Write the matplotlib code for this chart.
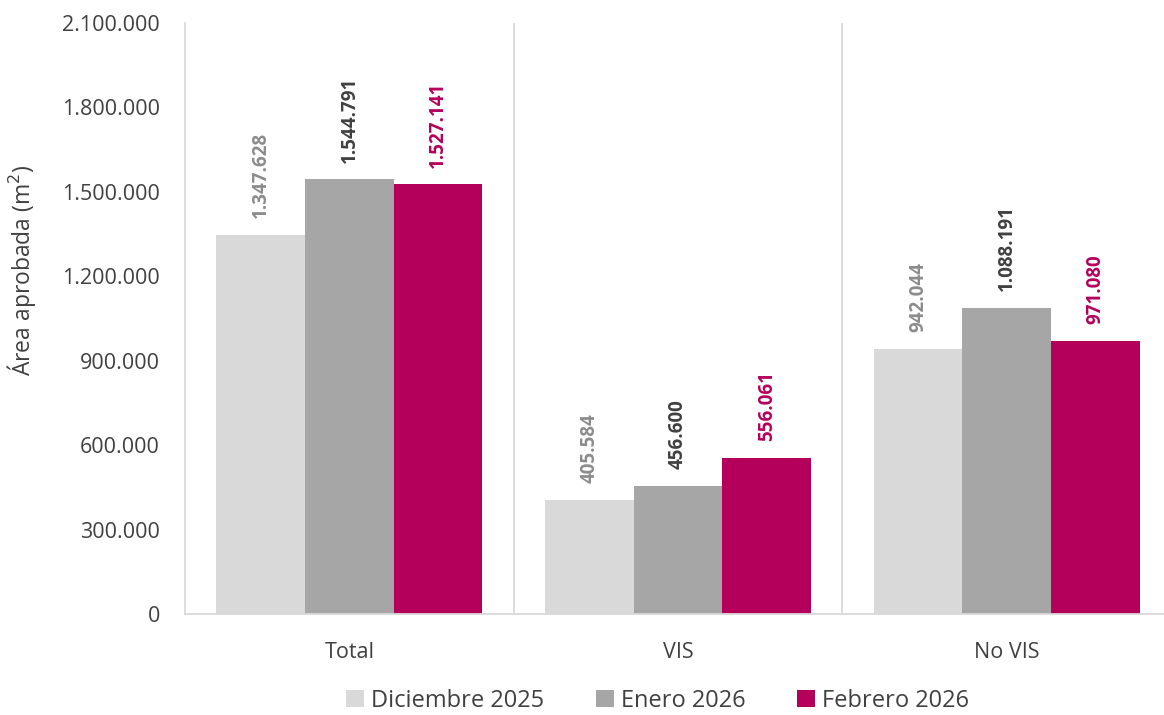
import matplotlib
matplotlib.use('Agg')
import matplotlib.pyplot as plt
import numpy as np
from matplotlib.ticker import FuncFormatter

categorias = ['Total', 'VIS', 'No VIS']
series = ['Diciembre 2025', 'Enero 2026', 'Febrero 2026']
dic_2025 = [1347628, 405584, 942044]
ene_2026 = [1544791, 456600, 1088191]
feb_2026 = [1527141, 556061, 971080]

colores = ['#d9d9d9', '#a6a6a6', '#b5005b']
colores_txt = ['#8c8c8c', '#404040', '#b5005b']
pesos_txt = ['bold', 'bold', 'bold']

plt.rcParams['font.family'] = ['Open Sans', 'DejaVu Sans']

fig = plt.figure(figsize=(11.64, 7.15), dpi=100)
ax = fig.add_axes([0.159, 0.141, 0.847, 0.827])

x = np.arange(len(categorias))
width = 0.27
valores = [dic_2025, ene_2026, feb_2026]
for i, (vals, nombre) in enumerate(zip(valores, series)):
    pos = x + (i - 1) * width
    ax.bar(pos, vals, width, color=colores[i], label=nombre, zorder=2)
    for xp, v in zip(pos, vals):
        ax.annotate(f'{v:,}'.replace(',', '.'), (xp, v), xytext=(0, 12),
                    textcoords='offset points', rotation=90, ha='center',
                    va='bottom', fontsize=13.5, color=colores_txt[i],
                    fontweight=pesos_txt[i])

# separadores verticales entre categorias
for b in [0.5, 1.5, 2.5]:
    ax.axvline(b, color='#d9d9d9', lw=1.3, zorder=1)

ax.set_xlim(-0.5, 2.5)
ax.set_ylim(0, 2100000)
ax.set_yticks(np.arange(0, 2100001, 300000))
ax.yaxis.set_major_formatter(FuncFormatter(lambda v, p: f'{int(v):,}'.replace(',', '.')))
ax.set_xticks(x)
ax.set_xticklabels(categorias)
ax.tick_params(axis='both', length=0, labelsize=15.5, colors='#404040')
ax.tick_params(axis='y', pad=18)
ax.tick_params(axis='x', pad=20)

for s in ['top', 'right']:
    ax.spines[s].set_visible(False)
for s in ['left', 'bottom']:
    ax.spines[s].set_color('#d9d9d9')
    ax.spines[s].set_linewidth(1.3)

ax.set_ylabel('Área aprobada (m$^2$)', fontsize=16.5, color='#404040')
ax.yaxis.set_label_coords(-0.149, 0.582)

fig.legend(loc='lower center', ncol=3, frameon=False, fontsize=17,
           bbox_to_anchor=(0.565, -0.027), handlelength=0.75, handleheight=0.75,
           handletextpad=0.3, columnspacing=2.2, labelcolor='#404040')

fig.savefig('out.png', dpi=100)
